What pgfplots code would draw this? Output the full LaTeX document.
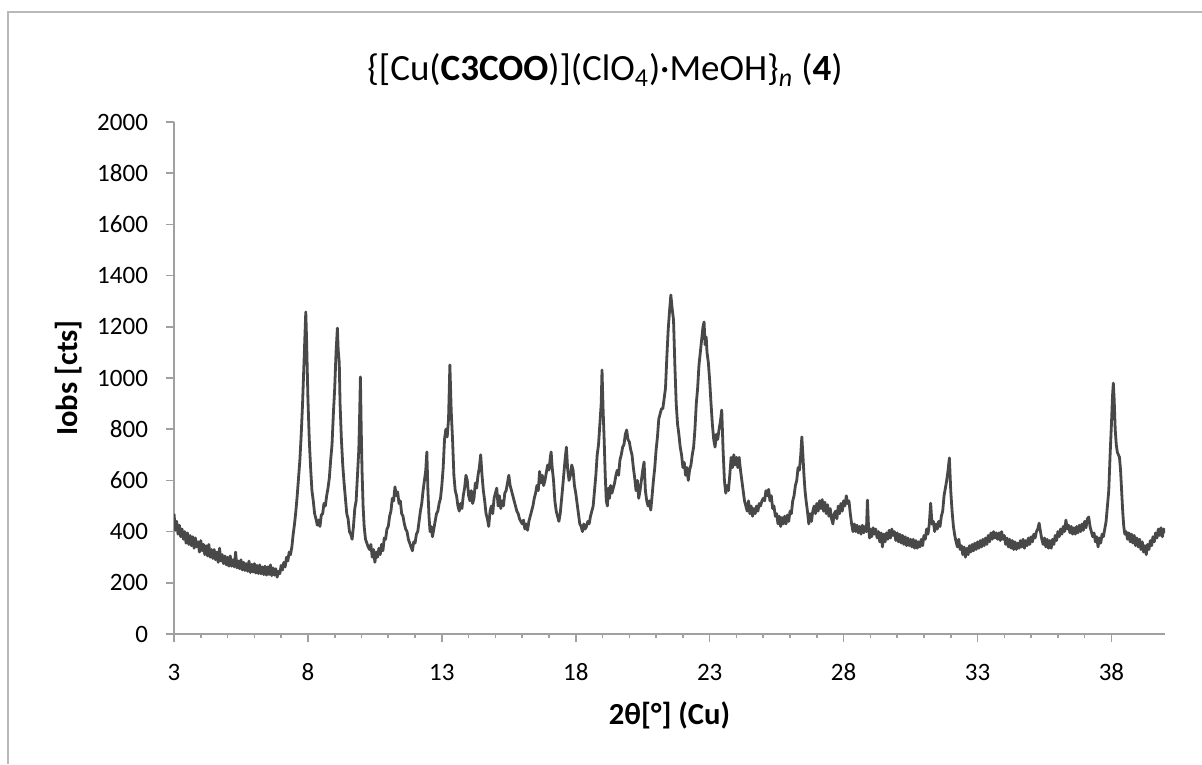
\documentclass[border=0pt]{standalone}
\usepackage{fontspec}
\setmainfont{Carlito}
\usepackage{pgfplots}
\usepackage{pgfplotstable}
\pgfplotsset{compat=1.18}
\definecolor{axgray}{RGB}{160,160,160}
\definecolor{linegray}{RGB}{72,72,72}
\definecolor{framegray}{RGB}{185,185,185}
\pgfplotstableread{
x y
3.00 470
3.05 405
3.10 440
3.15 390
3.20 425
3.25 380
3.30 410
3.35 370
3.40 400
3.45 355
3.50 395
3.55 350
3.60 385
3.65 345
3.70 380
3.75 335
3.80 375
3.85 340
3.90 360
3.95 320
4.00 365
4.05 325
4.10 350
4.15 310
4.20 345
4.25 305
4.30 350
4.35 300
4.40 330
4.45 295
4.50 330
4.55 290
4.60 320
4.65 280
4.70 335
4.75 285
4.80 310
4.85 275
4.90 305
4.95 270
5.00 300
5.05 265
5.10 305
5.15 265
5.20 290
5.25 262
5.30 320
5.35 258
5.40 285
5.45 255
5.50 290
5.55 250
5.60 280
5.65 248
5.70 275
5.75 245
5.80 285
5.85 240
5.90 272
5.95 242
6.00 275
6.05 238
6.10 268
6.15 236
6.20 270
6.25 235
6.30 262
6.35 232
6.40 265
6.45 230
6.50 262
6.55 232
6.60 270
6.65 228
6.70 258
6.75 230
6.80 255
6.85 222
6.90 245
6.95 235
7.00 268
7.05 250
7.10 280
7.15 262
7.20 300
7.25 285
7.30 320
7.35 310
7.40 340
7.45 390
7.50 430
7.55 480
7.60 540
7.65 610
7.70 680
7.75 780
7.80 900
7.85 1050
7.90 1200
7.92 1258
7.95 1150
8.00 920
8.05 760
8.10 650
8.15 560
8.20 520
8.25 470
8.30 450
8.35 425
8.40 445
8.45 420
8.50 465
8.55 470
8.60 510
8.65 500
8.70 540
8.75 570
8.80 610
8.85 680
8.90 740
8.95 860
9.00 960
9.05 1100
9.10 1195
9.13 1110
9.17 1060
9.20 900
9.25 760
9.30 660
9.35 590
9.40 530
9.45 470
9.50 450
9.55 400
9.60 390
9.65 370
9.70 420
9.75 490
9.80 520
9.85 620
9.90 720
9.93 850
9.96 1004
9.99 800
10.02 640
10.06 500
10.10 420
10.15 370
10.20 355
10.25 340
10.30 330
10.35 350
10.40 300
10.45 330
10.50 280
10.55 320
10.60 300
10.65 335
10.70 310
10.75 350
10.80 325
10.85 375
10.90 370
10.95 410
11.00 420
11.05 460
11.10 480
11.15 530
11.20 520
11.25 575
11.30 540
11.35 555
11.40 510
11.45 520
11.50 470
11.55 460
11.60 430
11.65 410
11.70 400
11.75 370
11.80 355
11.85 340
11.90 325
11.95 360
12.00 355
12.05 390
12.10 400
12.15 440
12.20 480
12.25 510
12.30 560
12.35 600
12.40 640
12.44 711
12.48 560
12.52 460
12.56 400
12.60 420
12.65 380
12.70 410
12.75 440
12.80 470
12.85 480
12.90 510
12.95 530
13.00 580
13.05 650
13.10 760
13.15 800
13.20 770
13.25 840
13.30 1051
13.35 870
13.40 760
13.45 620
13.50 560
13.55 540
13.60 500
13.65 480
13.70 510
13.75 490
13.80 540
13.85 570
13.90 620
13.95 600
14.00 540
14.05 520
14.10 560
14.15 510
14.20 530
14.25 590
14.30 570
14.35 620
14.40 650
14.45 700
14.50 620
14.55 560
14.60 520
14.65 470
14.70 450
14.75 420
14.80 480
14.85 500
14.90 470
14.95 530
15.00 550
15.05 570
15.10 500
15.15 540
15.20 490
15.25 520
15.30 500
15.35 550
15.40 560
15.45 590
15.50 620
15.55 580
15.60 560
15.65 540
15.70 520
15.75 500
15.80 480
15.85 470
15.90 450
15.95 440
16.00 430
16.05 445
16.10 410
16.15 430
16.20 405
16.25 440
16.30 460
16.35 480
16.40 500
16.45 530
16.50 550
16.55 580
16.60 560
16.65 635
16.70 590
16.75 620
16.80 580
16.85 600
16.90 630
16.95 660
17.00 640
17.05 690
17.08 711
17.12 650
17.17 600
17.22 520
17.27 480
17.32 460
17.37 440
17.42 470
17.50 560
17.55 620
17.60 680
17.65 730
17.70 640
17.75 600
17.80 620
17.85 660
17.90 640
17.95 580
18.00 550
18.05 510
18.10 470
18.15 430
18.20 420
18.25 400
18.30 430
18.35 410
18.40 420
18.45 440
18.50 430
18.55 460
18.60 480
18.65 500
18.70 560
18.75 620
18.80 700
18.85 740
18.90 820
18.95 900
18.98 1031
19.02 880
19.06 760
19.10 620
19.14 520
19.18 500
19.22 570
19.26 530
19.30 580
19.35 550
19.40 570
19.45 590
19.50 620
19.55 640
19.60 620
19.65 680
19.70 700
19.75 730
19.80 740
19.85 780
19.90 797
19.95 760
20.00 750
20.05 720
20.10 700
20.15 650
20.20 610
20.25 560
20.30 600
20.35 530
20.40 560
20.45 600
20.50 640
20.55 672
20.60 560
20.65 520
20.70 500
20.75 520
20.80 484
20.85 540
20.90 600
20.95 650
21.00 720
21.05 770
21.10 840
21.15 860
21.20 880
21.25 880
21.30 920
21.35 960
21.40 1080
21.45 1187
21.50 1260
21.55 1324
21.60 1270
21.65 1227
21.70 1050
21.75 900
21.80 820
21.85 780
21.90 730
21.95 700
22.00 650
22.05 670
22.10 620
22.15 650
22.20 600
22.25 640
22.30 660
22.35 700
22.40 730
22.45 800
22.50 900
22.55 960
22.60 1050
22.65 1100
22.70 1150
22.75 1200
22.79 1219
22.83 1130
22.87 1160
22.90 1100
22.95 1060
23.00 990
23.05 900
23.10 820
23.15 760
23.20 730
23.25 780
23.30 760
23.35 800
23.40 830
23.45 875
23.50 720
23.55 600
23.60 550
23.65 580
23.70 560
23.75 620
23.80 690
23.85 650
23.90 700
23.95 660
24.00 690
24.05 650
24.10 690
24.15 640
24.20 600
24.25 560
24.30 520
24.35 500
24.40 480
24.45 520
24.50 470
24.55 500
24.60 460
24.65 490
24.70 470
24.75 500
24.80 480
24.85 510
24.90 500
24.95 520
25.00 530
25.05 520
25.10 560
25.15 540
25.20 565
25.25 520
25.30 540
25.35 490
25.40 500
25.45 460
25.50 470
25.55 430
25.60 460
25.65 420
25.70 455
25.75 430
25.80 460
25.85 430
25.90 465
25.95 440
26.00 480
26.05 470
26.10 520
26.15 540
26.20 580
26.25 600
26.30 650
26.35 640
26.40 700
26.44 770
26.48 700
26.52 620
26.56 560
26.60 520
26.65 480
26.70 430
26.75 470
26.80 440
26.85 480
26.90 500
26.95 470
27.00 510
27.05 480
27.10 520
27.15 490
27.20 525
27.25 480
27.30 515
27.35 470
27.40 505
27.45 460
27.50 490
27.55 450
27.60 430
27.65 470
27.70 480
27.75 450
27.80 500
27.85 470
27.90 510
27.95 480
28.00 520
28.05 500
28.10 540
28.15 510
28.20 520
28.25 470
28.30 430
28.35 400
28.40 430
28.45 400
28.50 425
28.55 395
28.60 420
28.65 390
28.70 425
28.75 395
28.80 420
28.85 400
28.89 523
28.93 420
28.97 375
29.00 410
29.05 380
29.10 415
29.15 390
29.20 410
29.25 375
29.30 400
29.35 360
29.40 395
29.45 340
29.50 390
29.55 360
29.60 395
29.65 370
29.70 405
29.75 375
29.80 410
29.85 385
29.90 400
29.95 365
30.00 395
30.05 360
30.10 390
30.15 355
30.20 385
30.25 350
30.30 380
30.35 345
30.40 375
30.45 345
30.50 370
30.55 340
30.60 370
30.65 335
30.70 365
30.75 335
30.80 360
30.85 340
30.90 370
30.95 345
31.00 385
31.05 370
31.10 410
31.15 390
31.20 430
31.25 511
31.30 430
31.35 440
31.40 400
31.45 430
31.50 410
31.55 440
31.60 420
31.65 460
31.70 480
31.75 540
31.80 570
31.85 600
31.90 640
31.95 688
32.00 560
32.05 480
32.10 420
32.15 385
32.20 360
32.25 340
32.30 370
32.35 330
32.40 345
32.45 310
32.50 340
32.55 300
32.60 335
32.65 310
32.70 345
32.75 320
32.80 350
32.85 325
32.90 355
32.95 330
33.00 360
33.05 335
33.10 365
33.15 340
33.20 370
33.25 345
33.30 375
33.35 350
33.40 385
33.45 360
33.50 395
33.55 370
33.60 400
33.65 375
33.70 395
33.75 370
33.80 395
33.85 365
33.90 400
33.95 370
34.00 385
34.05 350
34.10 375
34.15 340
34.20 370
34.25 335
34.30 365
34.35 330
34.40 360
34.45 330
34.50 355
34.55 335
34.60 365
34.65 340
34.70 370
34.75 335
34.80 365
34.85 345
34.90 375
34.95 350
35.00 380
35.05 360
35.10 390
35.15 375
35.20 400
35.25 410
35.30 433
35.35 400
35.40 370
35.45 350
35.50 375
35.55 340
35.60 370
35.65 335
35.70 365
35.75 335
35.80 370
35.85 350
35.90 385
35.95 365
36.00 400
36.05 380
36.10 410
36.15 390
36.20 420
36.25 400
36.30 445
36.35 410
36.40 425
36.45 395
36.50 420
36.55 390
36.60 415
36.65 390
36.70 420
36.75 395
36.80 425
36.85 400
36.90 430
36.95 405
37.00 440
37.05 415
37.10 450
37.15 457
37.20 420
37.25 400
37.30 380
37.35 395
37.40 360
37.45 380
37.50 340
37.55 375
37.60 355
37.65 390
37.70 380
37.75 410
37.80 440
37.85 500
37.90 560
37.95 700
38.00 820
38.04 930
38.07 980
38.10 920
38.14 800
38.18 740
38.22 710
38.26 700
38.30 690
38.34 640
38.38 560
38.42 480
38.46 420
38.50 390
38.55 400
38.60 370
38.65 395
38.70 360
38.75 390
38.80 355
38.85 385
38.90 345
38.95 375
39.00 340
39.05 370
39.10 330
39.15 360
39.20 320
39.25 345
39.30 310
39.35 350
39.40 330
39.45 365
39.50 345
39.55 380
39.60 360
39.65 395
39.70 375
39.75 410
39.80 385
39.85 415
39.90 380
39.95 410
40.00 395
}\xrd
\begin{document}
\begin{tikzpicture}[x=1pt,y=1pt]
\path[use as bounding box] (0,0) rectangle (601,382);
\draw[framegray, line width=1pt] (4,0) -- (4,376) -- (601,376);
\node[font=\fontsize{18.5}{22}\selectfont] at (302.5,347) {\{[Cu(\textbf{C3COO})](ClO\textsubscript{4})·MeOH\}\textsubscript{\textit{n}} (\textbf{4})};
\begin{axis}[
  at={(87pt,65pt)}, anchor=south west,
  scale only axis, width=495.5pt, height=256pt,
  xmin=3, xmax=40, ymin=0, ymax=2000,
  xtick={3,8,...,38}, ytick={0,200,...,2000},
  minor x tick num=4,
  axis lines=left,
  axis line style={axgray, line width=0.8pt, -},
  tick style={axgray, line width=0.8pt},
  tick align=outside,
  major tick length=4pt, minor tick length=2pt,
  /pgf/number format/assume math mode=true,
  /pgf/number format/1000 sep={},
  tick label style={font=\fontsize{12.5}{15}\selectfont, text=black},
  xticklabel style={anchor=center, yshift=-15pt},
  yticklabel style={anchor=east, xshift=-5.5pt},
  every axis x label/.style={at={(axis description cs:0.5,-0.16)}, anchor=center},
  every axis y label/.style={at={(axis description cs:-0.106,0.5)}, rotate=90, anchor=center},
  label style={font=\fontsize{15.3}{18}\selectfont\bfseries},
  xlabel={2θ[°] (Cu)},
  ylabel={Iobs [cts]},
]
\addplot[linegray, line width=1.4pt, line join=round] table[x=x,y=y] {\xrd};
\end{axis}
\end{tikzpicture}
\end{document}
